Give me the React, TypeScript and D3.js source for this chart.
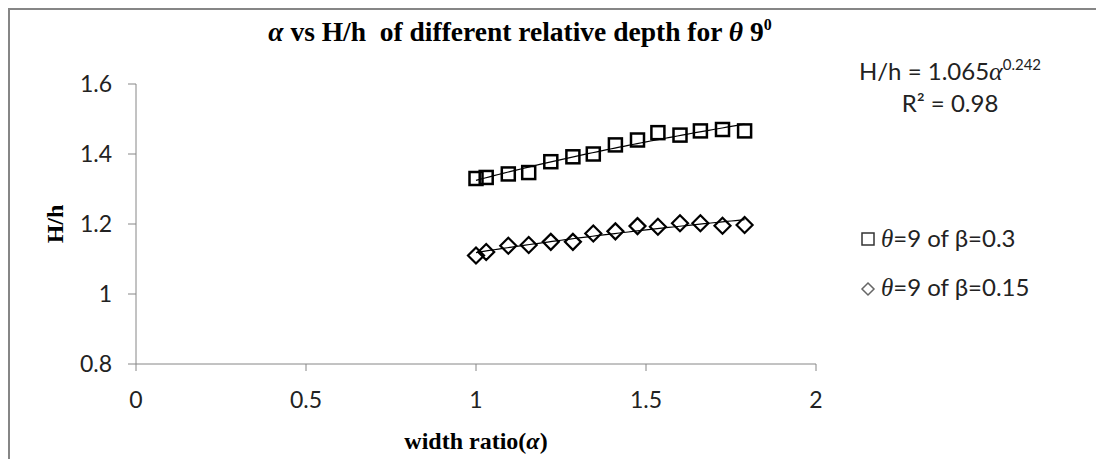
import React from "react";
import * as d3 from "d3";

const alphaValues = [1.0, 1.03, 1.095, 1.155, 1.22, 1.285, 1.345, 1.41, 1.475, 1.535, 1.6, 1.66, 1.725, 1.79];
const beta03Values = [1.33, 1.333, 1.343, 1.347, 1.378, 1.392, 1.4, 1.426, 1.44, 1.461, 1.454, 1.466, 1.47, 1.466];
const beta015Values = [1.11, 1.12, 1.138, 1.14, 1.149, 1.149, 1.173, 1.179, 1.194, 1.192, 1.202, 1.202, 1.195, 1.197];
const xTicks = [0, 0.5, 1, 1.5, 2];
const yTicks = [0.8, 1, 1.2, 1.4, 1.6];
const xTickLabels = ["0", "0.5", "1", "1.5", "2"];
const yTickLabels = ["0.8", "1", "1.2", "1.4", "1.6"];

const W = 1096;
const H = 459;
const SANS = "Lato, 'Open Sans', sans-serif";
const SERIF = "'Liberation Serif', 'Times New Roman', serif";
const AXIS = "#868686";
const TXT = "#222";
const FS = 23;

function powerFit(xs: number[], ys: number[]) {
  const lx = xs.map(Math.log);
  const ly = ys.map(Math.log);
  const mx = d3.mean(lx)!;
  const my = d3.mean(ly)!;
  const sxy = d3.sum(lx.map((v, i) => (v - mx) * (ly[i] - my)));
  const sxx = d3.sum(lx.map((v) => (v - mx) * (v - mx)));
  const b = sxy / sxx;
  const a = Math.exp(my - b * mx);
  return (x: number) => a * Math.pow(x, b);
}

export default function App() {
  const x = d3.scaleLinear().domain([0, 2]).range([136, 816]);
  const y = d3.scaleLinear().domain([0.8, 1.6]).range([364, 84]);

  const series = [
    { name: "b03", values: beta03Values, shape: "square" },
    { name: "b015", values: beta015Values, shape: "diamond" },
  ];

  const line = d3
    .line<[number, number]>()
    .x((d) => x(d[0]))
    .y((d) => y(d[1]));

  const [xmin, xmax] = d3.extent(alphaValues) as [number, number];
  const samples = d3.range(0, 61).map((i) => xmin + ((xmax - xmin) * i) / 60);

  const sq = 13;
  const dm = 8;

  return (
    <svg
      width={W}
      height={H}
      style={{ position: "absolute", left: 0, top: 0, background: "#fff" }}
    >
      <rect x={0} y={0} width={W} height={H} fill="#fff" />
      <rect x={9} y={9} width={W + 40} height={H + 40} fill="#fff" stroke={AXIS} strokeWidth={2} />

      {/* Title */}
      <text
        x={520}
        y={41}
        textAnchor="middle"
        fontFamily={SERIF}
        fontWeight="bold"
        fontSize={27.5}
        fill="#000"
        style={{ whiteSpace: "pre" }}
      >
        <tspan fontStyle="italic">α</tspan>
        <tspan>{" vs H/h  of different relative depth for "}</tspan>
        <tspan fontStyle="italic">θ</tspan>
        <tspan>{" 9"}</tspan>
        <tspan fontSize={16} dy={-11}>0</tspan>
      </text>

      {/* Axes */}
      <line x1={x(0)} x2={x(0)} y1={y(1.6)} y2={y(0.8)} stroke={AXIS} strokeWidth={1} />
      <line x1={x(0)} x2={x(2)} y1={y(0.8)} y2={y(0.8)} stroke={AXIS} strokeWidth={1} />
      {yTicks.map((t, i) => (
        <g key={"yt" + i}>
          <line x1={128} x2={136} y1={y(t)} y2={y(t)} stroke={AXIS} />
          <text
            x={112}
            y={y(t)}
            dy="0.36em"
            textAnchor="end"
            fontFamily={SANS}
            fontSize={FS}
            fill={TXT}
          >
            {yTickLabels[i]}
          </text>
        </g>
      ))}
      {xTicks.map((t, i) => (
        <g key={"xt" + i}>
          <line x1={x(t)} x2={x(t)} y1={364} y2={371} stroke={AXIS} />
          <text
            x={x(t)}
            y={408}
            textAnchor="middle"
            fontFamily={SANS}
            fontSize={FS}
            fill={TXT}
          >
            {xTickLabels[i]}
          </text>
        </g>
      ))}

      {/* Axis titles */}
      <text
        transform="translate(55,224) rotate(-90)"
        textAnchor="middle"
        dy="0.35em"
        fontFamily={SERIF}
        fontWeight="bold"
        fontSize={24}
        fill="#000"
      >
        H/h
      </text>
      <text
        x={476}
        y={449}
        textAnchor="middle"
        fontFamily={SERIF}
        fontWeight="bold"
        fontSize={24}
        fill="#000"
      >
        width ratio(<tspan fontStyle="italic">α</tspan>)
      </text>

      {/* Trend lines */}
      {series.map((s) => {
        const f = powerFit(alphaValues, s.values);
        const pts: [number, number][] = samples.map((v) => [v, f(v)]);
        return (
          <path key={"tl" + s.name} d={line(pts) || ""} fill="none" stroke="#000" strokeWidth={1.2} />
        );
      })}

      {/* Markers */}
      {series.map((s) =>
        s.values.map((v, i) => {
          const cx = x(alphaValues[i]);
          const cy = y(v);
          if (s.shape === "square") {
            return (
              <rect
                key={s.name + i}
                x={cx - sq / 2}
                y={cy - sq / 2}
                width={sq}
                height={sq}
                fill="none"
                stroke="#000"
                strokeWidth={2.5}
              />
            );
          }
          return (
            <path
              key={s.name + i}
              d={`M${cx},${cy - dm}L${cx + dm},${cy}L${cx},${cy + dm}L${cx - dm},${cy}Z`}
              fill="none"
              stroke="#000"
              strokeWidth={2.2}
            />
          );
        })
      )}

      {/* Equation */}
      <text x={950} y={80} textAnchor="middle" fontFamily={SANS} fontSize={24} fill={TXT}>
        <tspan>H/h = 1.065</tspan>
        <tspan fontFamily={SERIF} fontStyle="italic" fontSize={26}>α</tspan>
        <tspan fontSize={15} dy={-10}>0.242</tspan>
      </text>
      <text x={950} y={112} textAnchor="middle" fontFamily={SANS} fontSize={24} fill={TXT}>
        R² = 0.98
      </text>

      {/* Legend */}
      <rect x={862} y={233} width={12} height={12} fill="none" stroke="#333" strokeWidth={1.5} />
      <text x={881} y={247} fontFamily={SANS} fontSize={24} fill={TXT}>
        <tspan fontFamily={SERIF} fontStyle="italic" fontSize={25}>θ</tspan>
        <tspan>=9 of β=0.3</tspan>
      </text>
      <path d="M868,283L874,289L868,295L862,289Z" fill="none" stroke="#666" strokeWidth={1.5} />
      <text x={881} y={296} fontFamily={SANS} fontSize={24} fill={TXT}>
        <tspan fontFamily={SERIF} fontStyle="italic" fontSize={25}>θ</tspan>
        <tspan>=9 of β=0.15</tspan>
      </text>
    </svg>
  );
}
